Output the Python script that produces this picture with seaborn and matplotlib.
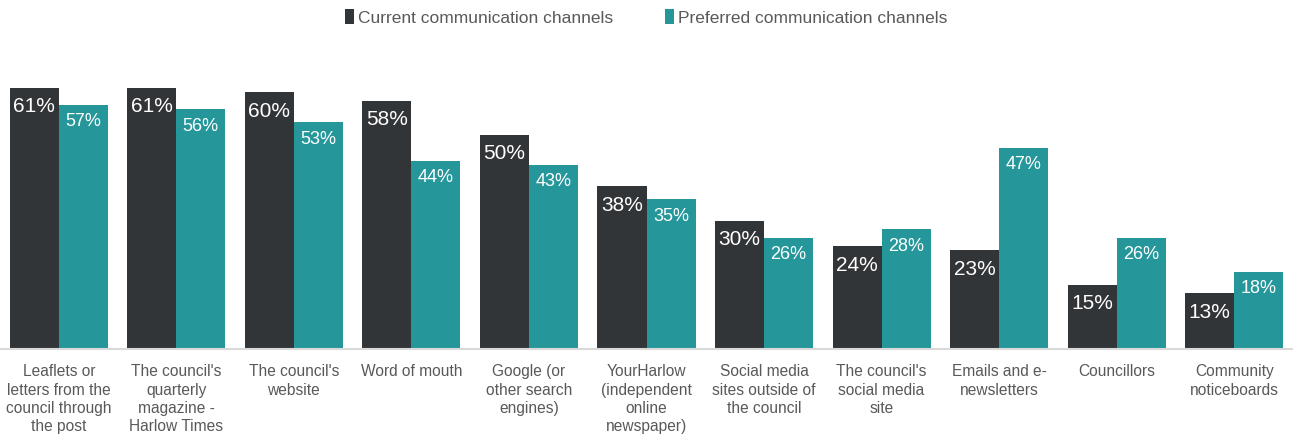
import matplotlib
matplotlib.use("Agg")
import matplotlib.pyplot as plt
import seaborn as sns
import pandas as pd
from matplotlib.patches import Patch

categories = [
    "Leaflets or\nletters from the\ncouncil through\nthe post",
    "The council's\nquarterly\nmagazine -\nHarlow Times",
    "The council's\nwebsite",
    "Word of mouth",
    "Google (or\nother search\nengines)",
    "YourHarlow\n(independent\nonline\nnewspaper)",
    "Social media\nsites outside of\nthe council",
    "The council's\nsocial media\nsite",
    "Emails and e-\nnewsletters",
    "Councillors",
    "Community\nnoticeboards",
]
current = [61, 61, 60, 58, 50, 38, 30, 24, 23, 15, 13]
preferred = [57, 56, 53, 44, 43, 35, 26, 28, 47, 26, 18]
series_names = ["Current communication channels", "Preferred communication channels"]

df = pd.DataFrame({
    "channel": categories * 2,
    "value": current + preferred,
    "series": [series_names[0]] * len(categories) + [series_names[1]] * len(categories),
})

sns.set_theme(style="white")
plt.rcParams["font.family"] = ["Liberation Sans", "DejaVu Sans"]

palette = {series_names[0]: "#323538", series_names[1]: "#25979B"}

fig = plt.figure(figsize=(12.93, 4.37), dpi=100)
ax = fig.add_axes([0.0, 0.2014, 1.0, 0.686])

sns.barplot(data=df, x="channel", y="value", hue="series", palette=palette,
            width=0.835, gap=0, saturation=1, linewidth=0, ax=ax, legend=False)

ax.set_ylim(0, 70)
ax.set_xlim(-0.5, len(categories) - 0.5)
ax.set_xlabel("")
ax.set_ylabel("")
ax.set_yticks([])
ax.tick_params(axis="x", length=0, pad=11, labelsize=11.2, labelcolor="#595959")
for lab in ax.get_xticklabels():
    lab.set_linespacing(1.27)
for s in ["top", "right", "left"]:
    ax.spines[s].set_visible(False)
ax.spines["bottom"].set_color("#D9D9D9")
ax.spines["bottom"].set_linewidth(1.5)

# value labels inside the top of each bar
for cont, size, off in zip(ax.containers, [15, 13], [19, 17]):
    for bar in cont:
        h = bar.get_height()
        ax.annotate(f"{h:.0f}%", (bar.get_x() + bar.get_width() / 2, h),
                    xytext=(0, -off), textcoords="offset pixels",
                    ha="center", va="center", color="white", fontsize=size)

# legend
handles = [Patch(facecolor=palette[n], edgecolor="none") for n in series_names]
fig.legend(handles, series_names, loc="center", bbox_to_anchor=(0.5, 0.96),
           ncol=2, frameon=False, fontsize=12.5, handlelength=0.5, handleheight=0.9,
           handletextpad=0.25, columnspacing=3.0, labelcolor="#595959")

fig.savefig("out.png", dpi=100)
